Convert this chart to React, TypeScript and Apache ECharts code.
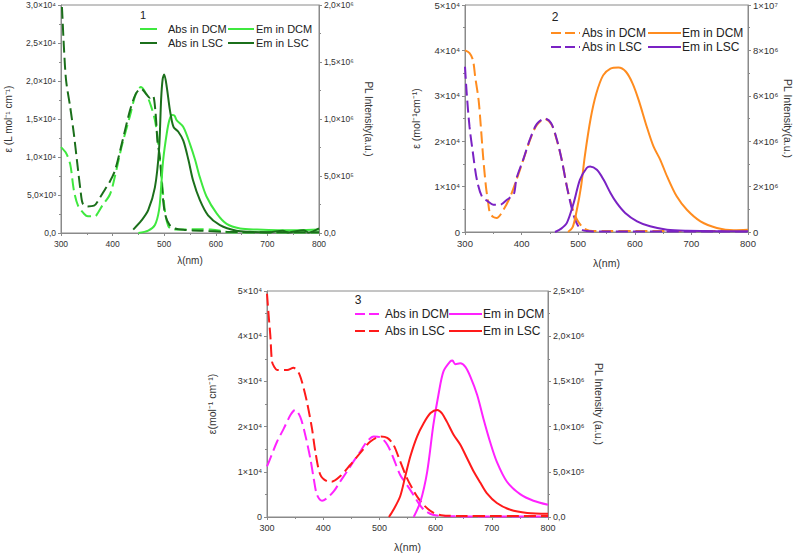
import React, { useEffect, useRef } from "react";
import * as echarts from "echarts";

// ---------- Panel 1 ----------
const abs1DcmNm = [300, 310, 318, 325, 333, 345, 352, 366, 372, 380, 395, 405, 418, 434, 445, 455, 465, 475, 483, 490, 496, 502, 508, 515, 530, 560, 590, 610, 625, 650, 700, 750, 800];
const abs1DcmEps = [11300, 10500, 9000, 5600, 3600, 2500, 2200, 2200, 2700, 3600, 5100, 7600, 11500, 15500, 18300, 19200, 18300, 16600, 14500, 10800, 6500, 2600, 900, 500, 450, 500, 450, 300, 100, 50, 50, 50, 50];
const abs1LscNm = [300, 302, 306, 310, 318, 325, 331, 338, 342, 350, 364, 375, 385, 395, 405, 418, 434, 445, 455, 465, 472, 478, 483, 487, 490, 493, 497, 502, 510, 520, 540, 570, 620, 700, 800];
const abs1LscEps = [32000, 29500, 24000, 20000, 16500, 13000, 9500, 5500, 3900, 3500, 3600, 4600, 5700, 6800, 8300, 11800, 16200, 18300, 19000, 18300, 17800, 18100, 16000, 12000, 10700, 9000, 5000, 2400, 1100, 600, 400, 300, 150, 100, 100];
const em1DcmNm = [450, 469, 482, 490, 494, 498, 505, 510, 515, 520, 524, 537, 550, 560, 569, 582, 602, 621, 647, 680, 720, 760, 800];
const em1DcmPl = [0, 20000, 70000, 200000, 400000, 640000, 875000, 990000, 1035000, 1030000, 990000, 930000, 780000, 640000, 490000, 320000, 170000, 80000, 40000, 30000, 25000, 25000, 30000];
const em1LscNm = [440, 456, 469, 482, 490, 494, 497, 500, 505, 511, 518, 527, 537, 547, 556, 569, 585, 608, 640, 666, 700, 730, 740, 770, 780, 800];
const em1LscPl = [30000, 110000, 200000, 400000, 730000, 1170000, 1350000, 1390000, 1280000, 1080000, 930000, 890000, 810000, 640000, 460000, 290000, 155000, 70000, 20000, 10000, 5000, 20000, 5000, 25000, 5000, 40000];

// ---------- Panel 2 ----------
const abs2DcmNm = [300, 308, 314, 318, 324, 328, 332, 337, 341, 344, 350, 356, 368, 380, 391, 403, 415, 427, 441, 453, 462, 471, 480, 489, 498, 509, 520, 550, 600, 700, 800];
const abs2DcmEps = [40000, 39400, 37900, 34200, 29100, 23200, 16600, 10000, 6400, 4200, 3300, 3100, 4900, 7800, 11500, 15900, 20300, 23600, 24900, 23600, 20300, 15900, 10000, 5600, 2700, 900, 300, 200, 200, 200, 200];
const abs2LscNm = [300, 303, 308, 314, 321, 330, 341, 350, 362, 374, 386, 391, 403, 415, 427, 441, 452, 462, 471, 480, 490, 497, 505, 515, 550, 650, 800];
const abs2LscEps = [36400, 30600, 23200, 17400, 11500, 7800, 6700, 6000, 6000, 7100, 8300, 11800, 16000, 20500, 23800, 25000, 24000, 20500, 15800, 10000, 4500, 2000, 600, 200, 100, 100, 100];
const em2DcmNm = [482, 490, 497, 505, 512, 522, 532, 544, 557, 571, 584, 596, 607, 621, 633, 645, 657, 674, 692, 716, 745, 775, 800];
const em2DcmPl = [0, 200000, 900000, 2000000, 3400000, 5000000, 6100000, 6900000, 7200000, 7250000, 7070000, 6550000, 5800000, 4650000, 3770000, 3180000, 2450000, 1570000, 980000, 470000, 180000, 80000, 100000];
const em2LscNm = [459, 470, 480, 492, 503, 515, 521, 533, 545, 557, 568, 583, 604, 627, 657, 692, 740, 800];
const em2LscPl = [0, 150000, 400000, 1280000, 2300000, 2820000, 2890000, 2740000, 2300000, 1720000, 1280000, 840000, 470000, 250000, 100000, 50000, 30000, 30000];

// ---------- Panel 3 ----------
const abs3DcmNm = [300, 306, 318, 330, 342, 350, 359, 368, 377, 383, 389, 398, 407, 419, 430, 442, 454, 466, 478, 490, 502, 514, 525, 537, 549, 560, 570, 580, 595, 620, 700, 800];
const abs3DcmEps = [11200, 13000, 16700, 19600, 22600, 23700, 22200, 18200, 13000, 8600, 4900, 3600, 4200, 5700, 7800, 10000, 12300, 14500, 16700, 17800, 17600, 16000, 13000, 9300, 7100, 5000, 3000, 1500, 500, 200, 100, 100];
const abs3LscNm = [300, 303, 306, 309, 313, 318, 336, 347, 356, 362, 371, 380, 386, 395, 407, 415, 430, 448, 466, 484, 502, 514, 525, 537, 549, 560, 570, 580, 595, 610, 650, 700, 800];
const abs3LscEps = [49400, 44500, 40000, 34300, 33200, 32500, 32500, 33000, 32000, 30000, 25500, 19600, 14500, 9300, 7900, 7800, 9000, 11500, 14200, 16700, 17800, 17500, 16000, 12300, 8600, 6000, 4000, 2500, 1000, 400, 200, 200, 200];
const em3DcmNm = [561, 573, 585, 596, 605, 614, 626, 630, 635, 644, 653, 662, 674, 685, 697, 709, 727, 751, 774, 800];
const em3DcmPl = [0, 170000, 500000, 1020000, 1350000, 1610000, 1720000, 1730000, 1690000, 1700000, 1660000, 1550000, 1350000, 1090000, 830000, 610000, 390000, 250000, 180000, 135000];
const em3LscNm = [517, 525, 537, 546, 555, 567, 579, 591, 603, 611, 620, 632, 644, 656, 668, 680, 691, 709, 733, 763, 800];
const em3LscPl = [0, 80000, 230000, 450000, 670000, 890000, 1040000, 1150000, 1185000, 1150000, 1055000, 910000, 800000, 650000, 500000, 375000, 265000, 155000, 80000, 45000, 35000];

const legendNames = ["Abs in DCM", "Abs in LSC", "Em in DCM", "Em in LSC"];
const panelLabels = ["1", "2", "3"];
const xTitle = "λ(nm)";
const leftTitles = ["ε (L mol⁻¹ cm⁻¹)", "ε (mol⁻¹cm⁻¹)", "ε(mol⁻¹ cm⁻¹)"];
const rightTitles = ["PL Intensity(a.u.)", "PL Intensity(a.u.)", "PL Intensity (a.u.)"];

const FONT = '"Liberation Sans", Arial, Helvetica, sans-serif';
const AXIS = "#8a8a8a";
const TEXT = "#333";

const SUP: Record<string, string> = { "0": "⁰", "1": "¹", "2": "²", "3": "³", "4": "⁴", "5": "⁵", "6": "⁶", "7": "⁷", "8": "⁸", "9": "⁹", "-": "⁻" };

function sci(v: number, decimal: boolean): string {
  if (v === 0) return decimal ? "0,0" : "0";
  const e = Math.floor(Math.log10(v) + 1e-9);
  const m = Math.round((v / Math.pow(10, e)) * 10) / 10;
  const mant = decimal ? m.toFixed(1).replace(".", ",") : String(Math.round(m));
  return mant + "×10" + String(e).split("").map((c) => SUP[c]).join("");
}

const pairs = (nm: number[], v: number[]) => nm.map((x, i) => [x, v[i]]);

type Panel = {
  grid: { left: number; top: number; width: number; height: number };
  leftMax: number; leftInterval: number; leftDecimal: boolean;
  rightMax: number; rightInterval: number; rightDecimal: boolean; rightMinorSplit: number;
  leftGap: number; rightGap: number; xGap: number;
  tickFont: number; labelFont: number;
  dcmColor: string; lscColor: string;
  series: number[][][]; // absDcm, absLsc, emDcm, emLsc
  legend: { numX: number; numY: number; row1: number; row2: number; dashX1: number; dashX2: number; absTextX: number; solidX1: number; solidX2: number; emTextX: number; font: number; dash: number[] };
};

const panels: Panel[] = [
  {
    grid: { left: 61, top: 5, width: 258, height: 228 },
    leftMax: 30000, leftInterval: 5000, leftDecimal: true,
    rightMax: 2000000, rightInterval: 500000, rightDecimal: true, rightMinorSplit: 2,
    leftGap: 48, rightGap: 44, xGap: 22, tickFont: 8.5, labelFont: 10,
    dcmColor: "#3fe83f", lscColor: "#1b6f1b",
    series: [pairs(abs1DcmNm, abs1DcmEps), pairs(abs1LscNm, abs1LscEps), pairs(em1DcmNm, em1DcmPl), pairs(em1LscNm, em1LscPl)],
    legend: { numX: 143, numY: 15, row1: 29, row2: 43, dashX1: 140, dashX2: 157, absTextX: 168, solidX1: 228, solidX2: 254, emTextX: 256, font: 11, dash: [17, 5] },
  },
  {
    grid: { left: 465, top: 5, width: 283, height: 227 },
    leftMax: 50000, leftInterval: 10000, leftDecimal: false,
    rightMax: 10000000, rightInterval: 2000000, rightDecimal: false, rightMinorSplit: 2,
    leftGap: 44, rightGap: 32, xGap: 25, tickFont: 9.5, labelFont: 10.5,
    dcmColor: "#ff8c1f", lscColor: "#7a22c4",
    series: [pairs(abs2DcmNm, abs2DcmEps), pairs(abs2LscNm, abs2LscEps), pairs(em2DcmNm, em2DcmPl), pairs(em2LscNm, em2LscPl)],
    legend: { numX: 555, numY: 17, row1: 33, row2: 47, dashX1: 551, dashX2: 580, absTextX: 582, solidX1: 648, solidX2: 681, emTextX: 682, font: 12, dash: [10, 4] },
  },
  {
    grid: { left: 267, top: 291, width: 281, height: 226 },
    leftMax: 50000, leftInterval: 10000, leftDecimal: false,
    rightMax: 2500000, rightInterval: 500000, rightDecimal: true, rightMinorSplit: 2,
    leftGap: 50, rightGap: 45, xGap: 24, tickFont: 9, labelFont: 10.5,
    dcmColor: "#ff22ff", lscColor: "#ff1a1a",
    series: [pairs(abs3DcmNm, abs3DcmEps), pairs(abs3LscNm, abs3LscEps), pairs(em3DcmNm, em3DcmPl), pairs(em3LscNm, em3LscPl)],
    legend: { numX: 358, numY: 300, row1: 314, row2: 331, dashX1: 355, dashX2: 383, absTextX: 385, solidX1: 449, solidX2: 482, emTextX: 483, font: 12, dash: [10, 4] },
  },
];

function buildOption() {
  const grid: any[] = [];
  const xAxis: any[] = [];
  const yAxis: any[] = [];
  const series: any[] = [];
  const graphic: any[] = [];

  panels.forEach((p, i) => {
    grid.push({ ...p.grid, show: true, borderColor: AXIS, borderWidth: 1, backgroundColor: "transparent", containLabel: false, outerBoundsMode: "none" });

    const tickStyle = { color: AXIS, width: 1 };
    xAxis.push({
      type: "value", gridIndex: i, min: 300, max: 800, interval: 100,
      name: xTitle, nameLocation: "middle", nameGap: p.xGap,
      nameTextStyle: { fontSize: p.labelFont, color: TEXT, fontFamily: FONT },
      axisLine: { show: true, onZero: false, lineStyle: tickStyle },
      axisTick: { show: true, inside: false, length: 3, lineStyle: tickStyle },
      minorTick: { show: true, splitNumber: 2, length: 2, lineStyle: tickStyle },
      splitLine: { show: false },
      axisLabel: { fontSize: p.tickFont, color: TEXT, fontFamily: FONT, margin: 6 },
    });

    const yBase = (pos: "left" | "right", max: number, interval: number, decimal: boolean, name: string, gap: number, minorSplit: number) => ({
      type: "value", gridIndex: i, position: pos, min: 0, max, interval,
      name, nameLocation: "middle", nameGap: gap, nameRotate: pos === "left" ? 90 : -90,
      nameTextStyle: { fontSize: p.labelFont, color: TEXT, fontFamily: FONT },
      axisLine: { show: true, onZero: false, lineStyle: tickStyle },
      axisTick: { show: true, inside: false, length: 3, lineStyle: tickStyle },
      minorTick: { show: true, splitNumber: minorSplit, length: 2, lineStyle: tickStyle },
      splitLine: { show: false },
      axisLabel: { fontSize: p.tickFont, color: TEXT, fontFamily: FONT, margin: 5, formatter: (v: number) => sci(v, decimal) },
    });
    yAxis.push(yBase("left", p.leftMax, p.leftInterval, p.leftDecimal, leftTitles[i], p.leftGap, 2));
    yAxis.push(yBase("right", p.rightMax, p.rightInterval, p.rightDecimal, rightTitles[i], p.rightGap, p.rightMinorSplit));

    const colors = [p.dcmColor, p.lscColor, p.dcmColor, p.lscColor];
    p.series.forEach((data, k) => {
      const isAbs = k < 2;
      series.push({
        type: "line", name: legendNames[k] + " " + panelLabels[i],
        xAxisIndex: i, yAxisIndex: i * 2 + (isAbs ? 0 : 1),
        data, showSymbol: false, symbol: "none", smooth: 0.3, clip: true,
        lineStyle: { color: colors[k], width: 2, type: isAbs ? [12, 5] : "solid" },
        z: isAbs ? 2 : 3,
      });
    });

    const L = p.legend;
    const font = `${L.font}px ${FONT}`;
    graphic.push({ type: "text", x: L.numX, y: L.numY, style: { text: panelLabels[i], font, fill: "#222", align: "center", verticalAlign: "middle" } });
    [L.row1, L.row2].forEach((y, r) => {
      const c = r === 0 ? p.dcmColor : p.lscColor;
      graphic.push({ type: "line", shape: { x1: L.dashX1, y1: y, x2: L.dashX2, y2: y }, style: { stroke: c, lineWidth: 2, lineDash: L.dash } });
      graphic.push({ type: "text", x: L.absTextX, y, style: { text: legendNames[r], font, fill: "#222", verticalAlign: "middle" } });
      graphic.push({ type: "line", shape: { x1: L.solidX1, y1: y, x2: L.solidX2, y2: y }, style: { stroke: c, lineWidth: 2 } });
      graphic.push({ type: "text", x: L.emTextX, y, style: { text: legendNames[r + 2], font, fill: "#222", verticalAlign: "middle" } });
    });
  });

  return { animation: false, backgroundColor: "#ffffff", textStyle: { fontFamily: FONT }, grid, xAxis, yAxis, series, graphic };
}

export default function App() {
  const ref = useRef<HTMLDivElement>(null);
  useEffect(() => {
    if (!ref.current) return;
    const chart = echarts.init(ref.current, undefined, { renderer: "svg" });
    chart.setOption(buildOption() as any);
    return () => chart.dispose();
  }, []);
  return <div ref={ref} style={{ position: "fixed", left: 0, top: 0, width: 795, height: 556, background: "#fff" }} />;
}
